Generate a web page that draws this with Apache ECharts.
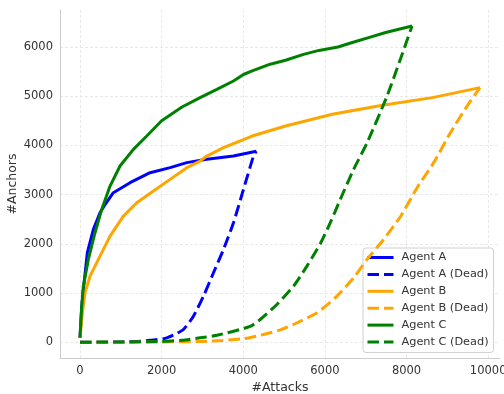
<!DOCTYPE html>
<html><head><meta charset="utf-8">
<script src="https://cdn.jsdelivr.net/npm/echarts@6/dist/echarts.min.js"></script>
<style>html,body{margin:0;padding:0;background:#fff}#c{width:504px;height:394px}</style>
</head><body><div id="c"></div>
<script>
const xTicks = [0, 2000, 4000, 6000, 8000, 10000];
const yTicks = [0, 1000, 2000, 3000, 4000, 5000, 6000];
const seriesNames = ['Agent A', 'Agent A (Dead)', 'Agent B', 'Agent B (Dead)', 'Agent C', 'Agent C (Dead)'];
const seriesColors = ['#0000ff', '#0000ff', '#ffa500', '#ffa500', '#008000', '#008000'];

const agentA = [[0,90],[40,700],[82,1070],[180,1820],[326,2290],[490,2630],[600,2780],[817,3038],[1226,3242],[1717,3445],[2208,3547],[2617,3649],[3107,3716],[3760,3783],[4320,3880]];
const agentADead = [[0,0],[500,0],[1000,5],[1500,20],[1717,40],[2044,69],[2300,150],[2534,258],[2779,529],[3024,936],[3270,1411],[3515,1885],[3760,2428],[4005,3106],[4251,3783],[4320,3880]];
const agentB = [[0,90],[60,600],[123,1005],[245,1342],[490,1749],[736,2156],[1062,2563],[1390,2835],[1798,3071],[2208,3309],[2617,3547],[2943,3681],[3107,3783],[3515,3953],[4219,4190],[5036,4393],[6181,4631],[7407,4814],[8634,4970],[9800,5174]];
const agentBDead = [[0,0],[1000,0],[2000,5],[3000,15],[3500,35],[4000,70],[4415,140],[4889,244],[5232,360],[5806,598],[6296,936],[6704,1310],[7032,1682],[7440,2089],[7849,2550],[8259,3140],[8666,3649],[9075,4258],[9485,4800],[9800,5174]];
const agentC = [[0,90],[40,700],[82,1139],[204,1682],[368,2225],[532,2699],[736,3173],[981,3580],[1308,3919],[1635,4190],[2000,4500],[2500,4780],[2943,4970],[3353,5139],[3760,5308],[4005,5440],[4219,5512],[4660,5650],[5036,5730],[5477,5850],[5855,5930],[6320,6000],[6671,6090],[7113,6200],[7489,6293],[8136,6427]];
const agentCDead = [[0,0],[1000,5],[2000,15],[2500,40],[2943,90],[3353,140],[4170,320],[4415,462],[4824,767],[5232,1139],[5559,1546],[5887,2000],[6132,2428],[6377,2902],[6704,3512],[7032,4050],[7523,5003],[7849,5750],[8136,6427]];

const seriesData = [agentA, agentADead, agentB, agentBDead, agentC, agentCDead];
const dashPattern = [11.5, 5];

const chart = echarts.init(document.getElementById('c'), null, {renderer: 'canvas'});
const gridLine = {show: true, lineStyle: {color: '#e3e3e3', width: 0.8, type: [3, 2]}};
const plain = v => String(v);
const option = {
  animation: false,
  backgroundColor: '#fff',
  grid: {left: 60, right: 4, top: 10, bottom: 36, containLabel: false, outerBoundsMode: 'none'},
  xAxis: {
    type: 'value', min: -490, max: 10290,
    name: '#Attacks', nameLocation: 'middle', nameGap: 23, nameMoveOverlap: false,
    nameTextStyle: {color: '#333', fontSize: 12.5, fontFamily: 'DejaVu Sans'},
    axisLine: {show: true, onZero: false, lineStyle: {color: '#cccccc', width: 1}},
    axisTick: {show: false, customValues: xTicks},
    axisLabel: {customValues: xTicks, formatter: plain, color: '#333', fontSize: 11.5, fontFamily: 'DejaVu Sans', margin: 7},
    splitLine: gridLine
  },
  yAxis: {
    type: 'value', min: -321, max: 6751,
    name: '#Anchors', nameLocation: 'middle', nameGap: 41, nameRotate: 90, nameMoveOverlap: false,
    nameTextStyle: {color: '#333', fontSize: 12.5, fontFamily: 'DejaVu Sans'},
    axisLine: {show: true, onZero: false, lineStyle: {color: '#cccccc', width: 1}},
    axisTick: {show: false, customValues: yTicks},
    axisLabel: {customValues: yTicks, formatter: plain, color: '#333', fontSize: 11.5, fontFamily: 'DejaVu Sans', margin: 7},
    splitLine: gridLine
  },
  legend: {
    orient: 'vertical', left: 363, top: 248,
    padding: [4, 5, 5, 3],
    itemWidth: 26, itemHeight: 10, itemGap: 5.9,
    backgroundColor: 'rgba(255,255,255,0.85)',
    borderColor: '#d0d0d0', borderWidth: 1, borderRadius: 3,
    itemStyle: {opacity: 0},
    textStyle: {color: '#333', fontSize: 11.3, fontFamily: 'DejaVu Sans', padding: [0,0,0,3]},
    data: seriesNames.map((n, i) => ({
      name: n,
      itemStyle: {opacity: 0},
      lineStyle: {color: seriesColors[i], width: 3, type: (i % 2 === 1) ? dashPattern : 'solid'}
    }))
  },
  series: seriesData.map((d, i) => ({
    name: seriesNames[i],
    type: 'line',
    data: d,
    showSymbol: false,
    symbol: 'none',
    smooth: (i % 2 === 1) ? 0.2 : false,
    z: 2 + i,
    lineStyle: {color: seriesColors[i], width: 3, type: (i % 2 === 1) ? dashPattern : 'solid'},
    itemStyle: {color: seriesColors[i]}
  }))
};
chart.setOption(option);
</script>
</body></html>
